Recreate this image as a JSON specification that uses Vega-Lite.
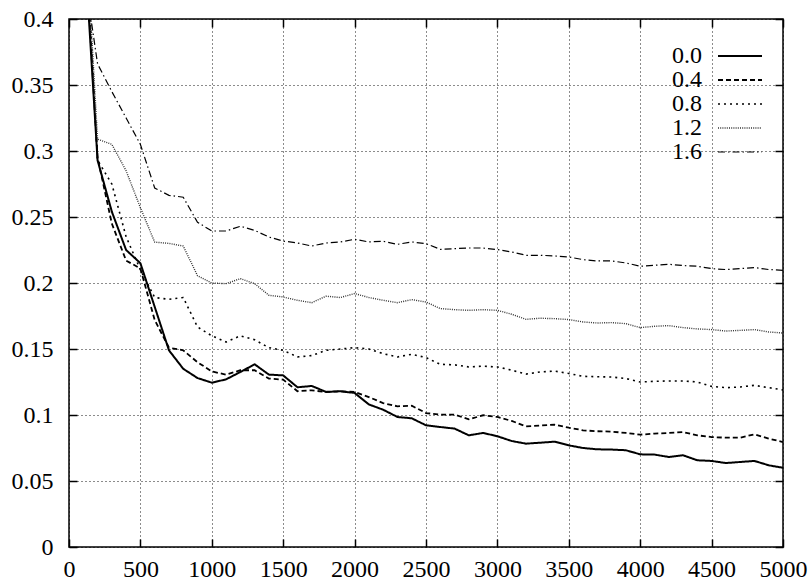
{
  "$schema": "https://vega.github.io/schema/vega-lite/v6.json",
  "width": 714,
  "height": 528,
  "autosize": {"type": "none"},
  "padding": {"left": 69, "top": 19, "right": 29, "bottom": 35},
  "background": "white",
  "data": {"values": [
    {"k":"0.0","x":100,"y":0.47},{"k":"0.0","x":200,"y":0.293},{"k":"0.0","x":300,"y":0.254},{"k":"0.0","x":400,"y":0.225},{"k":"0.0","x":500,"y":0.215},{"k":"0.0","x":600,"y":0.182},{"k":"0.0","x":700,"y":0.149},{"k":"0.0","x":800,"y":0.135},{"k":"0.0","x":900,"y":0.128},{"k":"0.0","x":1000,"y":0.1245},
    {"k":"0.0","x":1100,"y":0.127},{"k":"0.0","x":1200,"y":0.1326},{"k":"0.0","x":1300,"y":0.1384},{"k":"0.0","x":1400,"y":0.1306},{"k":"0.0","x":1500,"y":0.130},{"k":"0.0","x":1600,"y":0.121},{"k":"0.0","x":1700,"y":0.122},{"k":"0.0","x":1800,"y":0.1175},{"k":"0.0","x":1900,"y":0.118},{"k":"0.0","x":2000,"y":0.1167},
    {"k":"0.0","x":2100,"y":0.108},{"k":"0.0","x":2200,"y":0.104},{"k":"0.0","x":2300,"y":0.0985},{"k":"0.0","x":2400,"y":0.0975},{"k":"0.0","x":2500,"y":0.0922},{"k":"0.0","x":2600,"y":0.0909},{"k":"0.0","x":2700,"y":0.0897},{"k":"0.0","x":2800,"y":0.0846},{"k":"0.0","x":2900,"y":0.0864},{"k":"0.0","x":3000,"y":0.0839},
    {"k":"0.0","x":3100,"y":0.0803},{"k":"0.0","x":3200,"y":0.0783},{"k":"0.0","x":3300,"y":0.079},{"k":"0.0","x":3400,"y":0.0798},{"k":"0.0","x":3500,"y":0.077},{"k":"0.0","x":3600,"y":0.075},{"k":"0.0","x":3700,"y":0.074},{"k":"0.0","x":3800,"y":0.0738},{"k":"0.0","x":3900,"y":0.0733},{"k":"0.0","x":4000,"y":0.0702},
    {"k":"0.0","x":4100,"y":0.070},{"k":"0.0","x":4200,"y":0.0682},{"k":"0.0","x":4300,"y":0.0695},{"k":"0.0","x":4400,"y":0.0657},{"k":"0.0","x":4500,"y":0.0652},{"k":"0.0","x":4600,"y":0.0636},{"k":"0.0","x":4700,"y":0.0644},{"k":"0.0","x":4800,"y":0.0652},{"k":"0.0","x":4900,"y":0.0619},{"k":"0.0","x":5000,"y":0.060},

    {"k":"0.4","x":100,"y":0.48},{"k":"0.4","x":200,"y":0.295},{"k":"0.4","x":300,"y":0.245},{"k":"0.4","x":400,"y":0.217},{"k":"0.4","x":500,"y":0.211},{"k":"0.4","x":600,"y":0.172},{"k":"0.4","x":700,"y":0.151},{"k":"0.4","x":800,"y":0.149},{"k":"0.4","x":900,"y":0.140},{"k":"0.4","x":1000,"y":0.133},
    {"k":"0.4","x":1100,"y":0.1306},{"k":"0.4","x":1200,"y":0.1339},{"k":"0.4","x":1300,"y":0.1339},{"k":"0.4","x":1400,"y":0.1276},{"k":"0.4","x":1500,"y":0.1268},{"k":"0.4","x":1600,"y":0.118},{"k":"0.4","x":1700,"y":0.1187},{"k":"0.4","x":1800,"y":0.1174},{"k":"0.4","x":1900,"y":0.118},{"k":"0.4","x":2000,"y":0.1174},
    {"k":"0.4","x":2100,"y":0.1136},{"k":"0.4","x":2200,"y":0.109},{"k":"0.4","x":2300,"y":0.1066},{"k":"0.4","x":2400,"y":0.107},{"k":"0.4","x":2500,"y":0.1015},{"k":"0.4","x":2600,"y":0.1003},{"k":"0.4","x":2700,"y":0.1003},{"k":"0.4","x":2800,"y":0.0967},{"k":"0.4","x":2900,"y":0.0998},{"k":"0.4","x":3000,"y":0.0985},
    {"k":"0.4","x":3100,"y":0.0955},{"k":"0.4","x":3200,"y":0.0914},{"k":"0.4","x":3300,"y":0.092},{"k":"0.4","x":3400,"y":0.0927},{"k":"0.4","x":3500,"y":0.0904},{"k":"0.4","x":3600,"y":0.0884},{"k":"0.4","x":3700,"y":0.0877},{"k":"0.4","x":3800,"y":0.0874},{"k":"0.4","x":3900,"y":0.0864},{"k":"0.4","x":4000,"y":0.0851},
    {"k":"0.4","x":4100,"y":0.0859},{"k":"0.4","x":4200,"y":0.0864},{"k":"0.4","x":4300,"y":0.0871},{"k":"0.4","x":4400,"y":0.0846},{"k":"0.4","x":4500,"y":0.0833},{"k":"0.4","x":4600,"y":0.0828},{"k":"0.4","x":4700,"y":0.0828},{"k":"0.4","x":4800,"y":0.0854},{"k":"0.4","x":4900,"y":0.0821},{"k":"0.4","x":5000,"y":0.0795},

    {"k":"0.8","x":100,"y":0.50},{"k":"0.8","x":200,"y":0.293},{"k":"0.8","x":300,"y":0.275},{"k":"0.8","x":400,"y":0.235},{"k":"0.8","x":500,"y":0.21},{"k":"0.8","x":600,"y":0.189},{"k":"0.8","x":700,"y":0.1876},{"k":"0.8","x":800,"y":0.189},{"k":"0.8","x":900,"y":0.1667},{"k":"0.8","x":1000,"y":0.160},
    {"k":"0.8","x":1100,"y":0.1553},{"k":"0.8","x":1200,"y":0.160},{"k":"0.8","x":1300,"y":0.157},{"k":"0.8","x":1400,"y":0.151},{"k":"0.8","x":1500,"y":0.149},{"k":"0.8","x":1600,"y":0.144},{"k":"0.8","x":1700,"y":0.145},{"k":"0.8","x":1800,"y":0.149},{"k":"0.8","x":1900,"y":0.150},{"k":"0.8","x":2000,"y":0.151},
    {"k":"0.8","x":2100,"y":0.150},{"k":"0.8","x":2200,"y":0.1465},{"k":"0.8","x":2300,"y":0.144},{"k":"0.8","x":2400,"y":0.146},{"k":"0.8","x":2500,"y":0.1435},{"k":"0.8","x":2600,"y":0.1384},{"k":"0.8","x":2700,"y":0.138},{"k":"0.8","x":2800,"y":0.1364},{"k":"0.8","x":2900,"y":0.137},{"k":"0.8","x":3000,"y":0.1364},
    {"k":"0.8","x":3100,"y":0.134},{"k":"0.8","x":3200,"y":0.131},{"k":"0.8","x":3300,"y":0.1326},{"k":"0.8","x":3400,"y":0.1333},{"k":"0.8","x":3500,"y":0.1314},{"k":"0.8","x":3600,"y":0.1293},{"k":"0.8","x":3700,"y":0.129},{"k":"0.8","x":3800,"y":0.1288},{"k":"0.8","x":3900,"y":0.1276},{"k":"0.8","x":4000,"y":0.125},
    {"k":"0.8","x":4100,"y":0.1255},{"k":"0.8","x":4200,"y":0.1258},{"k":"0.8","x":4300,"y":0.1258},{"k":"0.8","x":4400,"y":0.125},{"k":"0.8","x":4500,"y":0.1217},{"k":"0.8","x":4600,"y":0.1207},{"k":"0.8","x":4700,"y":0.1212},{"k":"0.8","x":4800,"y":0.1225},{"k":"0.8","x":4900,"y":0.1207},{"k":"0.8","x":5000,"y":0.119},

    {"k":"1.2","x":100,"y":0.50},{"k":"1.2","x":200,"y":0.309},{"k":"1.2","x":300,"y":0.305},{"k":"1.2","x":400,"y":0.285},{"k":"1.2","x":500,"y":0.257},{"k":"1.2","x":600,"y":0.231},{"k":"1.2","x":700,"y":0.230},{"k":"1.2","x":800,"y":0.228},{"k":"1.2","x":900,"y":0.2055},{"k":"1.2","x":1000,"y":0.200},
    {"k":"1.2","x":1100,"y":0.1995},{"k":"1.2","x":1200,"y":0.2033},{"k":"1.2","x":1300,"y":0.1995},{"k":"1.2","x":1400,"y":0.1907},{"k":"1.2","x":1500,"y":0.1894},{"k":"1.2","x":1600,"y":0.1869},{"k":"1.2","x":1700,"y":0.1851},{"k":"1.2","x":1800,"y":0.190},{"k":"1.2","x":1900,"y":0.189},{"k":"1.2","x":2000,"y":0.192},
    {"k":"1.2","x":2100,"y":0.189},{"k":"1.2","x":2200,"y":0.1869},{"k":"1.2","x":2300,"y":0.1851},{"k":"1.2","x":2400,"y":0.1874},{"k":"1.2","x":2500,"y":0.1856},{"k":"1.2","x":2600,"y":0.1806},{"k":"1.2","x":2700,"y":0.1798},{"k":"1.2","x":2800,"y":0.1793},{"k":"1.2","x":2900,"y":0.1798},{"k":"1.2","x":3000,"y":0.1793},
    {"k":"1.2","x":3100,"y":0.1763},{"k":"1.2","x":3200,"y":0.1725},{"k":"1.2","x":3300,"y":0.1733},{"k":"1.2","x":3400,"y":0.173},{"k":"1.2","x":3500,"y":0.1723},{"k":"1.2","x":3600,"y":0.1705},{"k":"1.2","x":3700,"y":0.1697},{"k":"1.2","x":3800,"y":0.170},{"k":"1.2","x":3900,"y":0.1692},{"k":"1.2","x":4000,"y":0.1662},
    {"k":"1.2","x":4100,"y":0.1672},{"k":"1.2","x":4200,"y":0.1677},{"k":"1.2","x":4300,"y":0.1662},{"k":"1.2","x":4400,"y":0.1652},{"k":"1.2","x":4500,"y":0.1647},{"k":"1.2","x":4600,"y":0.1636},{"k":"1.2","x":4700,"y":0.1641},{"k":"1.2","x":4800,"y":0.1647},{"k":"1.2","x":4900,"y":0.1629},{"k":"1.2","x":5000,"y":0.1621},

    {"k":"1.6","x":100,"y":0.44},{"k":"1.6","x":200,"y":0.366},{"k":"1.6","x":300,"y":0.345},{"k":"1.6","x":400,"y":0.325},{"k":"1.6","x":500,"y":0.305},{"k":"1.6","x":600,"y":0.272},{"k":"1.6","x":700,"y":0.2664},{"k":"1.6","x":800,"y":0.265},{"k":"1.6","x":900,"y":0.246},{"k":"1.6","x":1000,"y":0.2394},
    {"k":"1.6","x":1100,"y":0.2394},{"k":"1.6","x":1200,"y":0.243},{"k":"1.6","x":1300,"y":0.2399},{"k":"1.6","x":1400,"y":0.2348},{"k":"1.6","x":1500,"y":0.2318},{"k":"1.6","x":1600,"y":0.2303},{"k":"1.6","x":1700,"y":0.228},{"k":"1.6","x":1800,"y":0.2303},{"k":"1.6","x":1900,"y":0.2311},{"k":"1.6","x":2000,"y":0.2331},
    {"k":"1.6","x":2100,"y":0.2311},{"k":"1.6","x":2200,"y":0.2316},{"k":"1.6","x":2300,"y":0.2293},{"k":"1.6","x":2400,"y":0.2311},{"k":"1.6","x":2500,"y":0.2298},{"k":"1.6","x":2600,"y":0.2255},{"k":"1.6","x":2700,"y":0.226},{"k":"1.6","x":2800,"y":0.2265},{"k":"1.6","x":2900,"y":0.2265},{"k":"1.6","x":3000,"y":0.2253},
    {"k":"1.6","x":3100,"y":0.2235},{"k":"1.6","x":3200,"y":0.221},{"k":"1.6","x":3300,"y":0.221},{"k":"1.6","x":3400,"y":0.2205},{"k":"1.6","x":3500,"y":0.2197},{"k":"1.6","x":3600,"y":0.2177},{"k":"1.6","x":3700,"y":0.2167},{"k":"1.6","x":3800,"y":0.2167},{"k":"1.6","x":3900,"y":0.2152},{"k":"1.6","x":4000,"y":0.2127},
    {"k":"1.6","x":4100,"y":0.2134},{"k":"1.6","x":4200,"y":0.2142},{"k":"1.6","x":4300,"y":0.2132},{"k":"1.6","x":4400,"y":0.2127},{"k":"1.6","x":4500,"y":0.2109},{"k":"1.6","x":4600,"y":0.2102},{"k":"1.6","x":4700,"y":0.2109},{"k":"1.6","x":4800,"y":0.2117},{"k":"1.6","x":4900,"y":0.2102},{"k":"1.6","x":5000,"y":0.2096}
  ]},
  "layer": [
    {
      "mark": {"type": "line", "clip": true},
      "encoding": {
        "x": {"field": "x", "type": "quantitative",
              "scale": {"domain": [0, 5000], "nice": false},
              "axis": {"orient": "bottom", "values": [0,500,1000,1500,2000,2500,3000,3500,4000,4500,5000], "format": "d", "labelPadding": 18,
                       "labelOverlap": false, "labelFlush": false, "labelFont": "Liberation Serif", "labelFontSize": 24}},
        "y": {"field": "y", "type": "quantitative",
              "scale": {"domain": [0, 0.4], "nice": false},
              "axis": {"orient": "left", "values": [0,0.05,0.1,0.15,0.2,0.25,0.3,0.35,0.4], "format": "~g", "labelPadding": 24,
                       "labelOverlap": false, "labelFlush": false, "labelFont": "Liberation Serif", "labelFontSize": 24}},
        "strokeDash": {"field": "k", "type": "ordinal",
              "scale": {"domain": ["0.0","0.4","0.8","1.2","1.6"], "range": [[1,0],[5,3],[2,4],[1,1.2],[7,3,1.5,3]]},
              "legend": {"orient": "none", "legendX": 637, "legendY": 25, "title": null,
                         "symbolType": "M0,0L8,0", "symbolSize": 121,
                         "labelAlign": "right", "labelOffset": -28, "labelBaseline": "middle",
                         "labelFont": "Liberation Serif", "labelFontSize": 24, "labelColor": "black",
                         "rowPadding": -1.5, "padding": 0}},
        "strokeWidth": {"field": "k", "type": "ordinal",
              "scale": {"domain": ["0.0","0.4","0.8","1.2","1.6"], "range": [2, 1.2, 1.2, 1, 1.2]}},
        "color": {"field": "k", "type": "ordinal",
              "scale": {"domain": ["0.0","0.4","0.8","1.2","1.6"], "range": ["#000000","#000000","#000000","#333333","#000000"]}}
      }
    },
    {
      "mark": {"type": "line", "opacity": 0, "clip": true},
      "encoding": {
        "x": {"field": "x", "type": "quantitative",
              "axis": {"orient": "top", "values": [0,500,1000,1500,2000,2500,3000,3500,4000,4500,5000], "labels": false, "grid": false}},
        "y": {"field": "y", "type": "quantitative",
              "axis": {"orient": "right", "values": [0,0.05,0.1,0.15,0.2,0.25,0.3,0.35,0.4], "labels": false, "grid": false}},
        "detail": {"field": "k", "type": "nominal"}
      }
    }
  ],
  "resolve": {"axis": {"x": "independent", "y": "independent"}},
  "config": {
    "view": {"stroke": "black", "strokeWidth": 1.5},
    "font": "Liberation Serif",
    "axis": {
      "title": null,
      "labelColor": "black",
      "grid": true,
      "gridColor": "black",
      "gridDash": [1, 3],
      "gridWidth": 1,
      "gridOpacity": 0.9,
      "domain": false,
      "ticks": true,
      "tickColor": "black",
      "tickSize": -8,
      "tickWidth": 1.5
    }
  }
}
